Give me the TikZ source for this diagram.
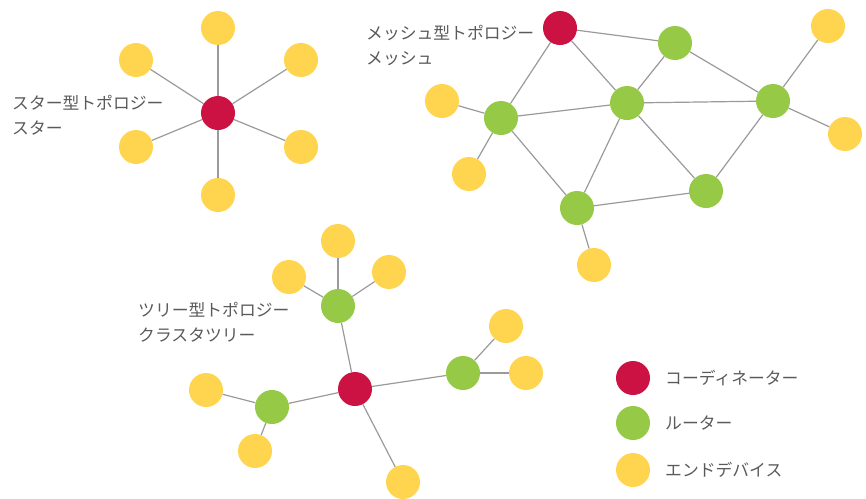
\documentclass[tikz,border=0pt]{standalone}
\usepackage{fontspec}
\newfontfamily\jp{Noto Sans CJK JP}
\definecolor{cred}{HTML}{CC1242}
\definecolor{cgreen}{HTML}{95C946}
\definecolor{cyellow}{HTML}{FFD54F}
\definecolor{ctext}{HTML}{5A5A5A}
\definecolor{cedge}{HTML}{9A9A9A}
\begin{document}
\begin{tikzpicture}[x=1pt,y=-1pt,
  dev/.style={circle,minimum size=34pt,inner sep=0pt,draw=none},
  coord/.style={dev,fill=cred},
  rout/.style={dev,fill=cgreen},
  endd/.style={dev,fill=cyellow},
  link/.style={draw=cedge,line width=1.2pt},
  lbl/.style={font=\jp\fontsize{16.8}{25}\selectfont,text=ctext,align=left,inner sep=0pt}]
\useasboundingbox (0,0) rectangle (866,498);
% star
\node[coord] (s0) at (218,113) {};
\node[endd] (s1) at (218,28) {};
\node[endd] (s2) at (136,60) {};
\node[endd] (s3) at (301,60) {};
\node[endd] (s4) at (136,147) {};
\node[endd] (s5) at (301,147) {};
\node[endd] (s6) at (218,195) {};
% mesh
\node[coord] (m0) at (560,28) {};
\node[rout] (m1) at (675,43) {};
\node[rout] (m2) at (501,118) {};
\node[rout] (m3) at (627,103) {};
\node[rout] (m4) at (773,101) {};
\node[rout] (m5) at (706,191) {};
\node[rout] (m6) at (577,208) {};
\node[endd] (my1) at (442,101) {};
\node[endd] (my2) at (469,174) {};
\node[endd] (my3) at (828,26) {};
\node[endd] (my4) at (845,134) {};
\node[endd] (my5) at (594,265) {};
% tree
\node[coord] (t0) at (355,389) {};
\node[rout] (t1) at (338,306) {};
\node[rout] (t2) at (463,373) {};
\node[rout] (t3) at (272,407) {};
\node[endd] (ty1) at (338,241) {};
\node[endd] (ty2) at (289,277) {};
\node[endd] (ty3) at (389,272) {};
\node[endd] (ty4) at (506,326) {};
\node[endd] (ty5) at (526,373) {};
\node[endd] (ty6) at (206,390) {};
\node[endd] (ty7) at (255,451) {};
\node[endd] (ty8) at (403,482) {};
% legend
\node[coord] (l1) at (633,378) {};
\node[rout] (l2) at (633,423) {};
\node[endd] (l3) at (633,470) {};
% edges
\foreach \a/\b in {s0/s1,s0/s2,s0/s3,s0/s4,s0/s5,s0/s6,
  m0/m1,m0/m2,m0/m3,m1/m3,m1/m4,m2/m3,m2/m6,m3/m4,m3/m6,m3/m5,m4/m5,m5/m6,
  m2/my1,m2/my2,m4/my3,m4/my4,m6/my5,
  t1/ty1,t1/ty2,t1/ty3,t0/t1,t0/t2,t0/t3,t0/ty8,t2/ty4,t2/ty5,t3/ty6,t3/ty7}
  \draw[link] (\a) -- (\b);
% labels
\node[lbl,anchor=west] (lab1) at (12,115.5) {スター型トポロジー\\スター};
\node[lbl,anchor=west] (lab2) at (366,45.5) {メッシュ型トポロジー\\メッシュ};
\node[lbl,anchor=west] (lab3) at (138,322) {ツリー型トポロジー\\クラスタツリー};
\node[lbl,anchor=west] (lt1) at (665,378) {コーディネーター};
\node[lbl,anchor=west] (lt2) at (665,423) {ルーター};
\node[lbl,anchor=west] (lt3) at (665,470) {エンドデバイス};
\end{tikzpicture}
\end{document}
